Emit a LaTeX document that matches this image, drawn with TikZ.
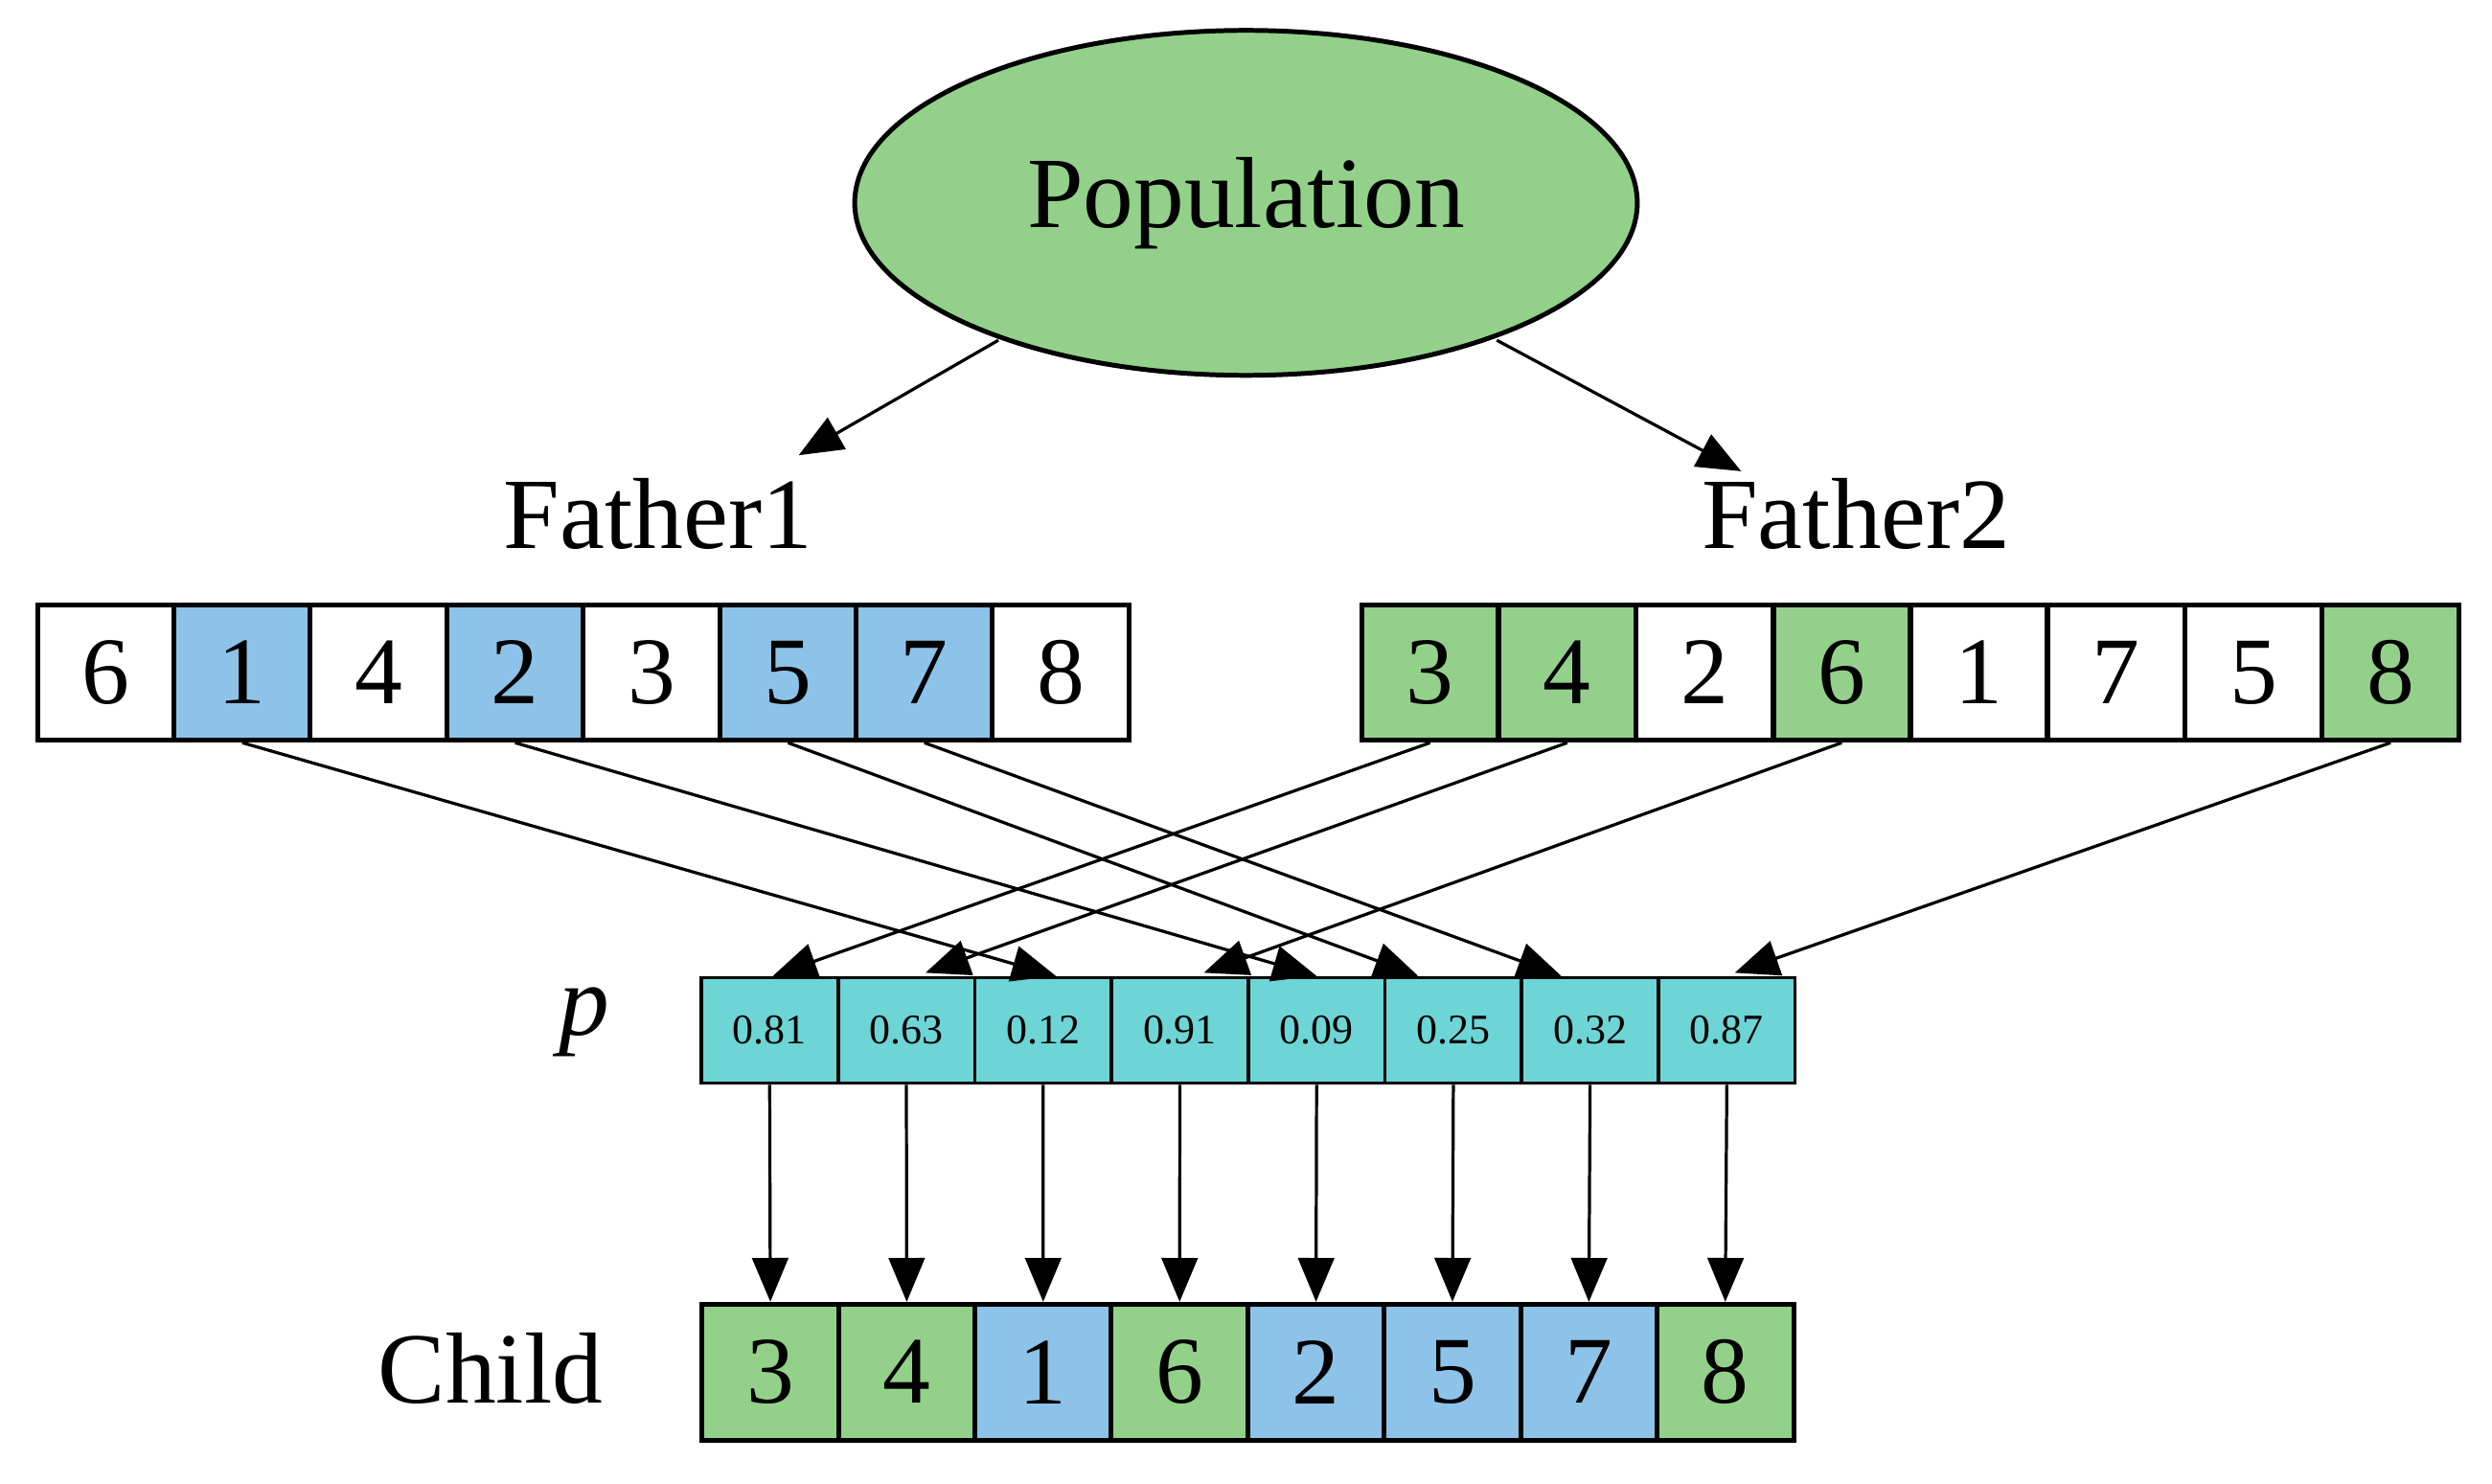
\documentclass[tikz,border=0pt]{standalone}
\usepackage{fontspec}
\setmainfont{Liberation Serif}
\usetikzlibrary{shapes.geometric,arrows.meta,calc}
\definecolor{cb}{HTML}{8DC3E8}
\definecolor{cg}{HTML}{93D18B}
\definecolor{cc}{HTML}{6DD5D5}
\begin{document}
\begin{tikzpicture}[x=0.02cm,y=-0.02cm,
 box/.style={draw,line width=1.7pt,minimum width=1.71cm,minimum height=1.7cm,inner sep=0pt,font=\fontsize{34}{36}\selectfont,anchor=north west},
 pbox/.style={draw,line width=1.2pt,minimum width=1.71cm,minimum height=1.32cm,inner sep=0pt,fill=cc,font=\fontsize{15}{16}\selectfont,anchor=north west},
 arr/.style={line width=1.1pt,-{Triangle[length=0.55cm,width=0.45cm]}},
 lbl/.style={font=\fontsize{36}{38}\selectfont}]
\useasboundingbox (0,0) rectangle (1560,929);
\node[ellipse,draw,line width=1.7pt,fill=cg,minimum width=9.8cm,minimum height=4.32cm,font=\fontsize{36}{38}\selectfont] (pop) at (780,127) {Population};
\node[lbl] (f1l) at (412,322) {Father1};
\node[lbl] (f2l) at (1162,322) {Father2};
\node[lbl,font=\fontsize{36}{38}\selectfont\itshape] (pl) at (366,640) {p};
\node[lbl] (cl) at (307,857) {Child};
\coordinate (a1) at (625,213); \coordinate (a1e) at (500,285);
\coordinate (a2) at (937,213); \coordinate (a2e) at (1090,295);
\draw[arr] (a1) -- (a1e);
\draw[arr] (a2) -- (a2e);
\foreach \v/\c [count=\i from 0] in {6/white,1/cb,4/white,2/cb,3/white,5/cb,7/cb,8/white}
  \node[box,fill=\c] (f1-\i) at ({22+85.4*\i},377) {\v};
\foreach \v/\c [count=\i from 0] in {3/cg,4/cg,2/white,6/cg,1/white,7/white,5/white,8/cg}
  \node[box,fill=\c] (f2-\i) at ({851+85.9*\i},377) {\v};
\foreach \v [count=\i from 0] in {0.81,0.63,0.12,0.91,0.09,0.25,0.32,0.87}
  \node[pbox] (p-\i) at ({438+85.6*\i},611) {\v};
\foreach \v/\c [count=\i from 0] in {3/cg,4/cg,1/cb,6/cg,2/cb,5/cb,7/cb,8/cg}
  \node[box,fill=\c] (c-\i) at ({438+85.4*\i},815) {\v};
\draw[arr] (f1-1.south) -- ($(p-2.north)+(8,0)$);
\draw[arr] (f1-3.south) -- ($(p-4.north)+(0,0)$);
\draw[arr] (f1-5.south) -- ($(p-5.north)+(-22,0)$);
\draw[arr] (f1-6.south) -- ($(p-6.north)+(-18,0)$);
\draw[arr] (f2-0.south) -- ($(p-0.north)+(2,0)$);
\draw[arr] (f2-1.south) -- ($(p-1.north)+(12,-2)$);
\draw[arr] (f2-3.south) -- ($(p-3.north)+(15,-2)$);
\draw[arr] (f2-7.south) -- ($(p-7.north)+(5,-2)$);
\foreach \i in {0,...,7} \draw[arr] (p-\i.south) -- (c-\i.north);
\end{tikzpicture}
\end{document}
